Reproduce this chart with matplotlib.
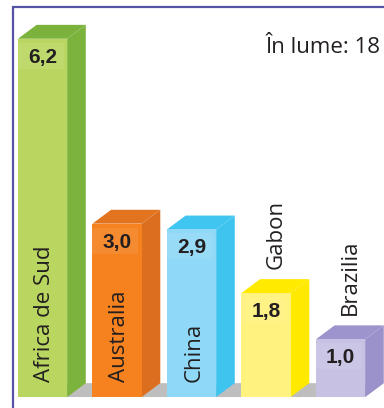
import matplotlib.pyplot as plt
from matplotlib.patches import Polygon, Rectangle

# === DATA ===
countries = ["Africa de Sud", "Australia", "China", "Gabon", "Brazilia"]
values = [6.2, 3.0, 2.9, 1.8, 1.0]
value_labels = ["6,2", "3,0", "2,9", "1,8", "1,0"]
inside_label = [True, True, True, False, False]
total_label = "În lume: 18"

# face colours: front, side, top
front_colors = ["#B9D660", "#F5821F", "#8FD8F7", "#FFF27E", "#C7C2E4"]
side_colors = ["#7BB33D", "#DB6E1F", "#3FC4F0", "#FFE900", "#9B91CB"]
top_colors = ["#7AB23B", "#E2731F", "#40C5F1", "#FFEA00", "#9E94CD"]

# === STYLE ===
W, H, DPI = 384, 408, 100
BAR_W = 0.66      # front face width (in bar slots)
DX, DY = 0.25, 0.24  # depth offset (x in slots, y in value units)
FLOOR = "#BEBEBE"
BORDER = "#5653A6"
TXT = "#231F20"
LABEL_FONT = ["Open Sans", "DejaVu Sans"]

fig = plt.figure(figsize=(W / DPI, H / DPI), dpi=DPI)
ax = fig.add_axes([0, 0, 1, 1])
ax.set_xlim(-0.2416, 4.913)
ax.set_ylim(-0.19, 6.87)
ax.axis("off")

xs = list(range(len(values)))

# floor behind the bars
x0, x1 = xs[0], xs[-1] + BAR_W
ax.add_patch(Polygon([(x0, 0), (x1, 0), (x1 + DX, DY), (x0 + DX, DY)],
                     closed=True, facecolor=FLOOR, edgecolor="none", zorder=1))

for i, (x, v) in enumerate(zip(xs, values)):
    # side face
    ax.add_patch(Polygon([(x + BAR_W, 0), (x + BAR_W + DX, DY),
                          (x + BAR_W + DX, v + DY), (x + BAR_W, v)],
                         closed=True, facecolor=side_colors[i], edgecolor="none", zorder=2))
    # top face
    ax.add_patch(Polygon([(x, v), (x + DX, v + DY),
                          (x + BAR_W + DX, v + DY), (x + BAR_W, v)],
                         closed=True, facecolor=top_colors[i], edgecolor="none", zorder=2))

# front faces
ax.bar(xs, values, width=BAR_W, align="edge", color=front_colors, zorder=3)

for i, (x, v) in enumerate(zip(xs, values)):
    # slightly lighter patch behind the value
    ax.add_patch(Rectangle((x, v - 0.52), BAR_W * 0.93, 0.45, facecolor="white",
                           alpha=0.08, edgecolor="none", zorder=4))
    ax.text(x + BAR_W / 2, v - 0.32, value_labels[i], ha="center", va="center",
            fontsize=15, fontweight="bold", family="Liberation Sans",
            color=TXT, zorder=5)
    if inside_label[i]:
        ax.text(x + BAR_W / 2 + 0.03, DY + 0.02, countries[i], rotation=90,
                ha="center", va="bottom", fontsize=16, family=LABEL_FONT,
                color=TXT, zorder=5)
    else:
        ax.text(x + (BAR_W + DX) / 2 + 0.01, v + DY + 0.18, countries[i],
                rotation=90, ha="center", va="bottom", fontsize=16,
                family=LABEL_FONT, color=TXT, zorder=5)

ax.text(4.87, 5.95, total_label, ha="right", va="baseline", fontsize=16,
        family=LABEL_FONT, color=TXT, zorder=5)

# frame: only left and top edges are inside the picture
fig.add_artist(Rectangle((13 / W, -0.2), 1.2, 1.2 - 7 / H, transform=fig.transFigure,
                         facecolor="none", edgecolor=BORDER, linewidth=1.6,
                         clip_on=False))

fig.savefig("out.png", dpi=DPI)
